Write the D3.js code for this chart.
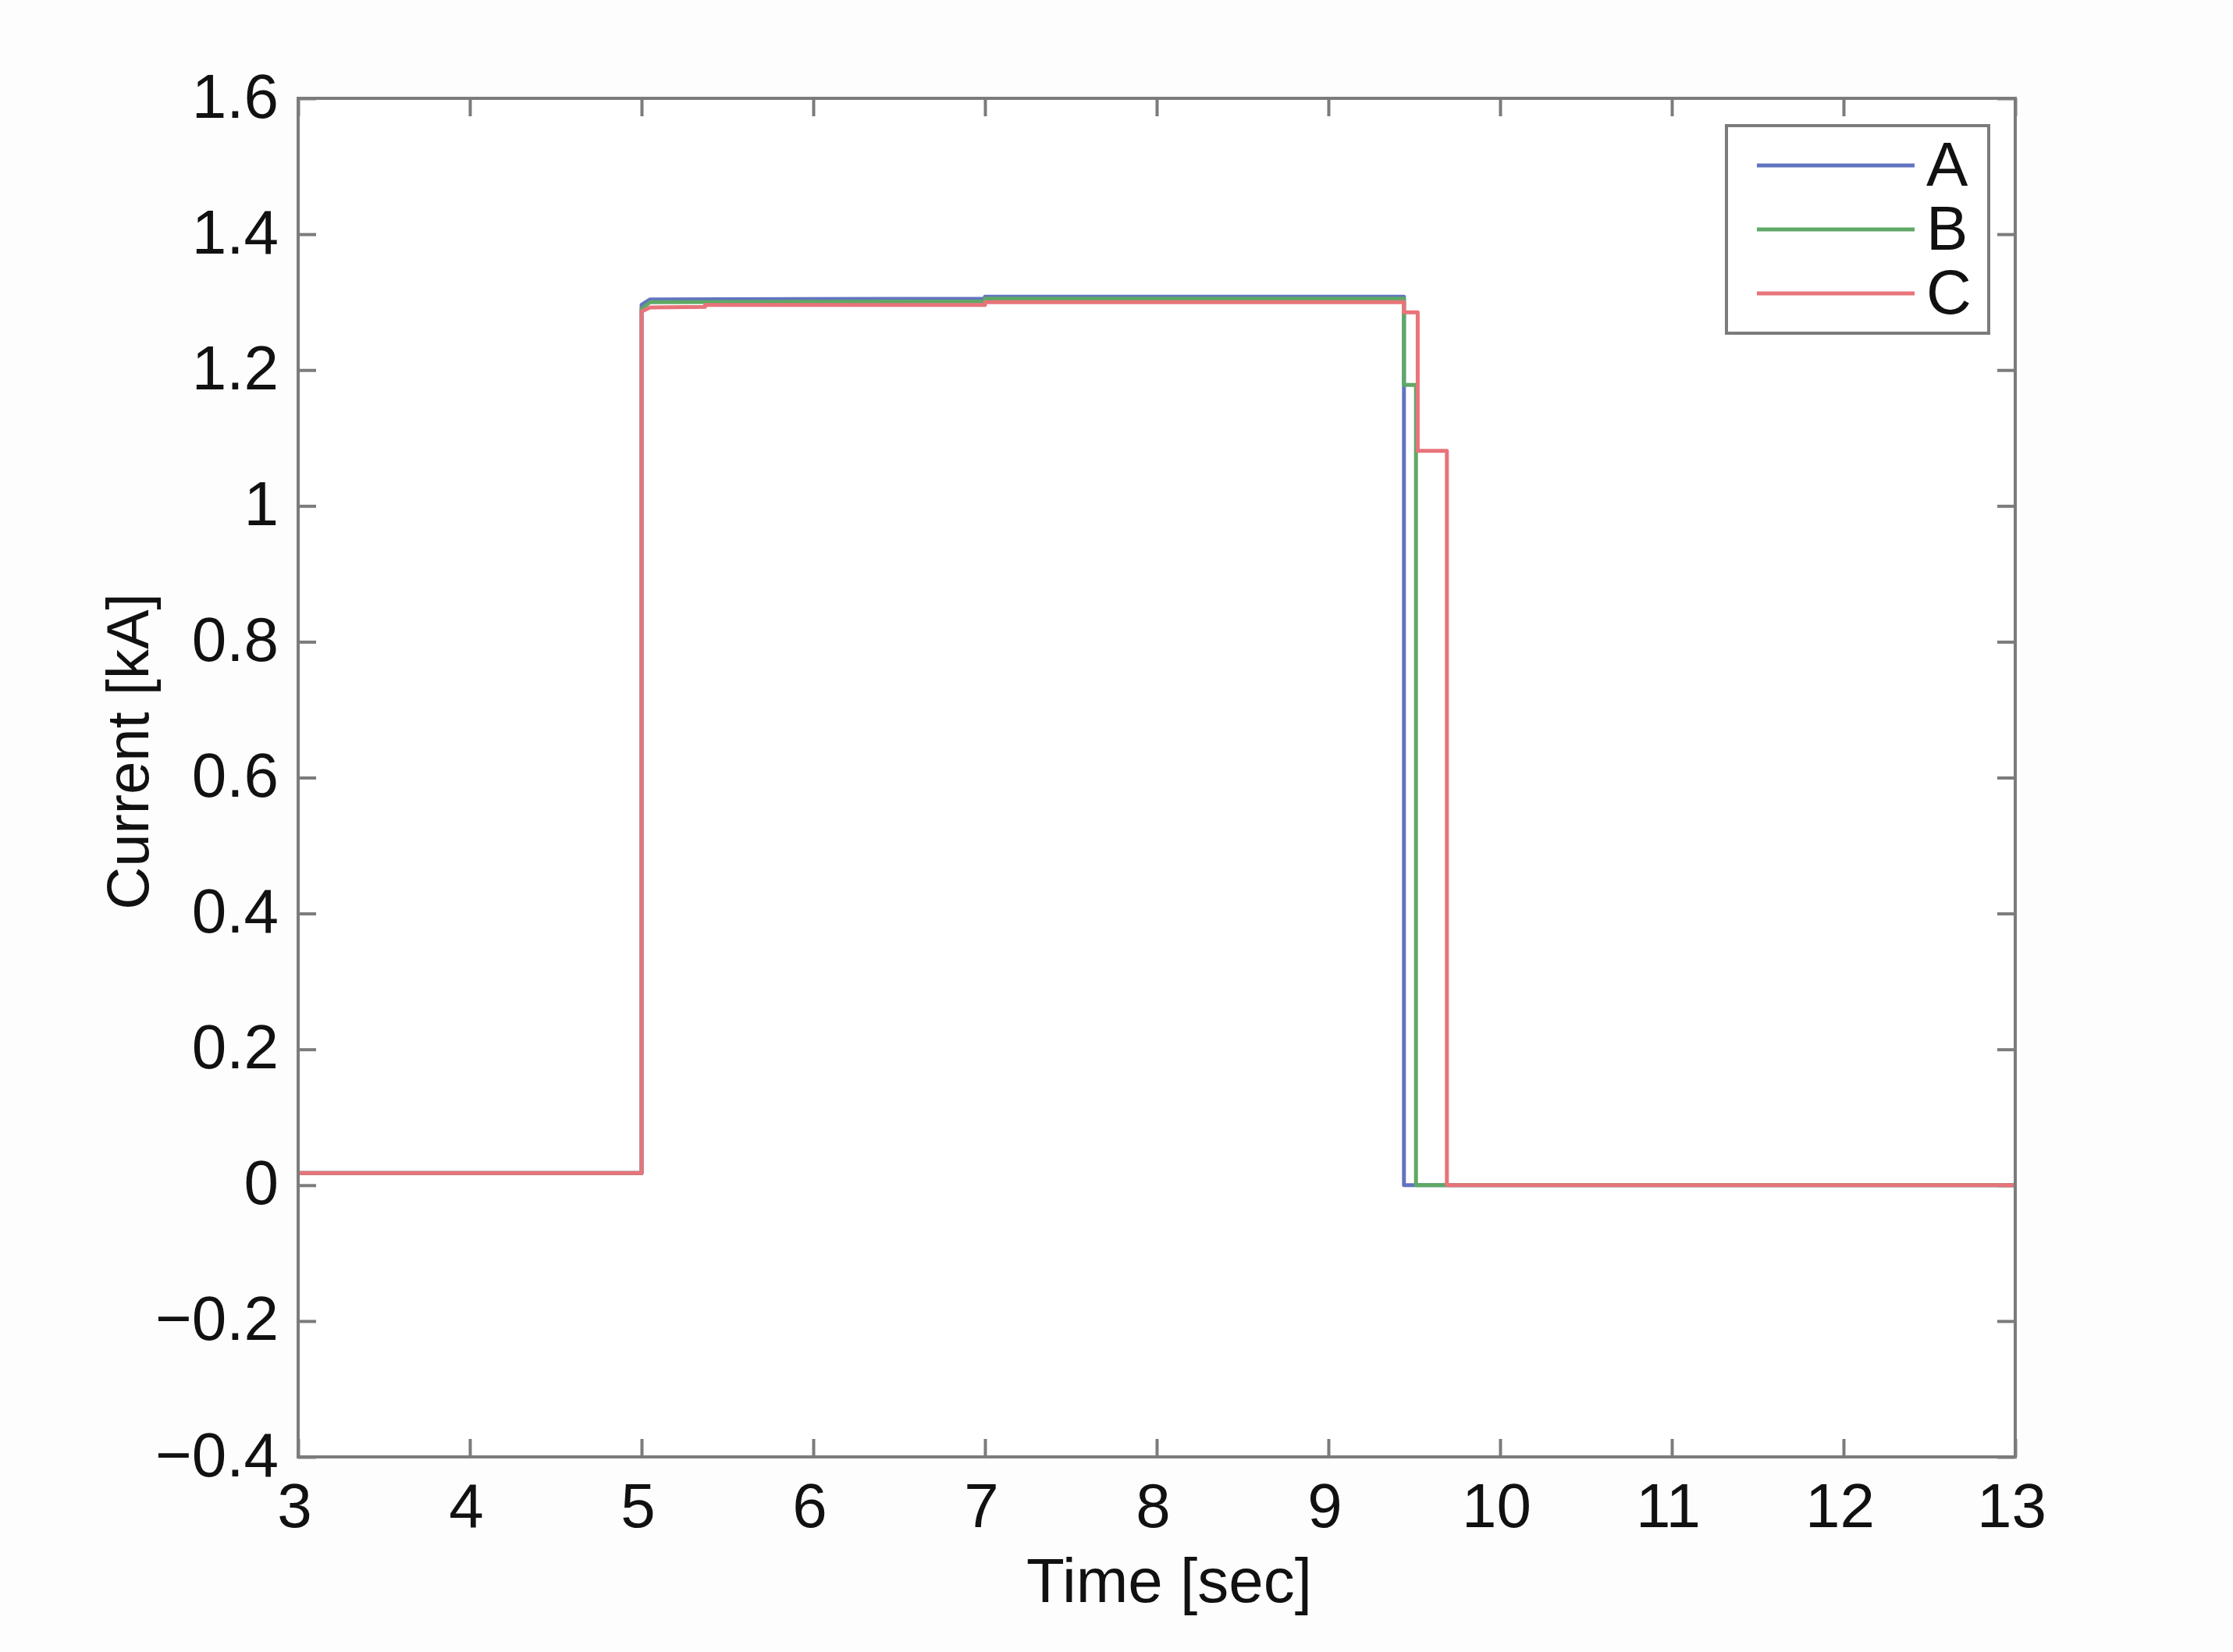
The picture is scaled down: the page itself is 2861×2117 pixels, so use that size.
<!DOCTYPE html>
<html>
<head>
<meta charset="utf-8">
<script src="https://cdn.jsdelivr.net/npm/d3@7"></script>
<style>
  html, body { margin: 0; padding: 0; background: #fdfdfd; }
  svg { display: block; }
  text { font-family: "Liberation Sans", Arial, Helvetica, sans-serif; fill: #111; }
</style>
</head>
<body>
<svg id="chart"></svg>
<script>
// tick values and labels
const xTicks = [3, 4, 5, 6, 7, 8, 9, 10, 11, 12, 13];
const yTicks = [-0.4, -0.2, 0, 0.2, 0.4, 0.6, 0.8, 1, 1.2, 1.4, 1.6];
const yTickLabels = ["\u22120.4", "\u22120.2", "0", "0.2", "0.4", "0.6", "0.8", "1", "1.2", "1.4", "1.6"];

// phase currents, step traces [time, kA]
const seriesNames = ["A", "B", "C"];
const phaseA = [[3, 0.018], [5, 0.018], [5, 1.296], [5.05, 1.304], [7, 1.305], [7, 1.308], [9.44, 1.308], [9.44, 0], [13, 0]];
const phaseB = [[3, 0.018], [5, 0.018], [5, 1.290], [5.05, 1.300], [7, 1.301], [7, 1.305], [9.44, 1.305], [9.44, 1.178], [9.51, 1.178], [9.51, 0], [13, 0]];
const phaseC = [[3, 0.018], [5, 0.018], [5, 1.286], [5.05, 1.292], [5.37, 1.293], [5.37, 1.296], [7, 1.296], [7, 1.300], [9.44, 1.300], [9.44, 1.285], [9.52, 1.285], [9.52, 1.081], [9.69, 1.081], [9.69, 0], [13, 0]];
const seriesColors = ["#6274c0", "#5ea866", "#e8737a"];

const width = 2861, height = 2117;
const margin = { top: 126, right: 279, bottom: 250, left: 382 };
const plotW = width - margin.left - margin.right;
const plotH = height - margin.top - margin.bottom;

const svg = d3.select("#chart").attr("width", width).attr("height", height);

const x = d3.scaleLinear().domain([3, 13]).range([0, plotW]);
const y = d3.scaleLinear().domain([-0.4, 1.6]).range([plotH, 0]);

const g = svg.append("g").attr("transform", `translate(${margin.left},${margin.top})`);

g.append("rect")
    .attr("width", plotW).attr("height", plotH)
    .attr("fill", "#ffffff");

// axes, ticks pointing inward on all four sides
const tickLen = 23;
const frameColor = "#7b7b7b";

const xAxis = g.append("g")
    .attr("transform", `translate(0,${plotH})`)
    .call(d3.axisBottom(x).tickValues(xTicks).tickSizeInner(-tickLen).tickSizeOuter(0).tickPadding(33));
xAxis.selectAll("text").attr("dy", "0.71em").attr("dx", -5);

const yAxis = g.append("g")
    .call(d3.axisLeft(y).tickValues(yTicks).tickSizeInner(-tickLen).tickSizeOuter(0).tickPadding(25)
        .tickFormat((d, i) => yTickLabels[i]));
yAxis.selectAll("text").attr("dy", "0.3em");

g.append("g")
    .call(d3.axisTop(x).tickValues(xTicks).tickSizeInner(-tickLen).tickSizeOuter(0).tickFormat(""));
g.append("g")
    .attr("transform", `translate(${plotW},0)`)
    .call(d3.axisRight(y).tickValues(yTicks).tickSizeInner(-tickLen).tickSizeOuter(0).tickFormat(""));

g.selectAll(".domain").remove();
g.selectAll(".tick line").attr("stroke", frameColor).attr("stroke-width", 4);
g.selectAll(".tick text").attr("font-size", 80).attr("fill", "#111")
    .style("font-family", "'Liberation Sans', Arial, sans-serif");

// traces
const line = d3.line().x(d => x(d[0])).y(d => y(d[1]));
const allSeries = [phaseA, phaseB, phaseC];

g.selectAll("path.trace")
    .data(allSeries)
    .enter()
    .append("path")
    .attr("class", "trace")
    .attr("d", line)
    .attr("fill", "none")
    .attr("stroke", (d, i) => seriesColors[i])
    .attr("stroke-width", 5)
    .attr("stroke-linejoin", "round");

// frame
g.append("rect")
    .attr("width", plotW).attr("height", plotH)
    .attr("fill", "none")
    .attr("stroke", frameColor)
    .attr("stroke-width", 4);

// axis labels
svg.append("text")
    .attr("x", margin.left + plotW / 2 + 16)
    .attr("y", 2053)
    .attr("text-anchor", "middle")
    .attr("font-size", 80)
    .text("Time [sec]");

svg.append("text")
    .attr("transform", "translate(190,963) rotate(-90)")
    .attr("text-anchor", "middle")
    .attr("font-size", 76)
    .text("Current [kA]");

// legend
const legend = svg.append("g").attr("transform", "translate(2212,161)");
legend.append("rect")
    .attr("width", 336).attr("height", 266)
    .attr("fill", "#ffffff")
    .attr("stroke", frameColor)
    .attr("stroke-width", 4);

const items = legend.selectAll("g.item")
    .data(seriesNames)
    .enter()
    .append("g")
    .attr("class", "item")
    .attr("transform", (d, i) => `translate(0,${51 + i * 82})`);

items.append("line")
    .attr("x1", 39).attr("x2", 241)
    .attr("stroke", (d, i) => seriesColors[i])
    .attr("stroke-width", 5);

items.append("text")
    .attr("x", 256)
    .attr("y", 26)
    .attr("font-size", 80)
    .text(d => d);
</script>
</body>
</html>
